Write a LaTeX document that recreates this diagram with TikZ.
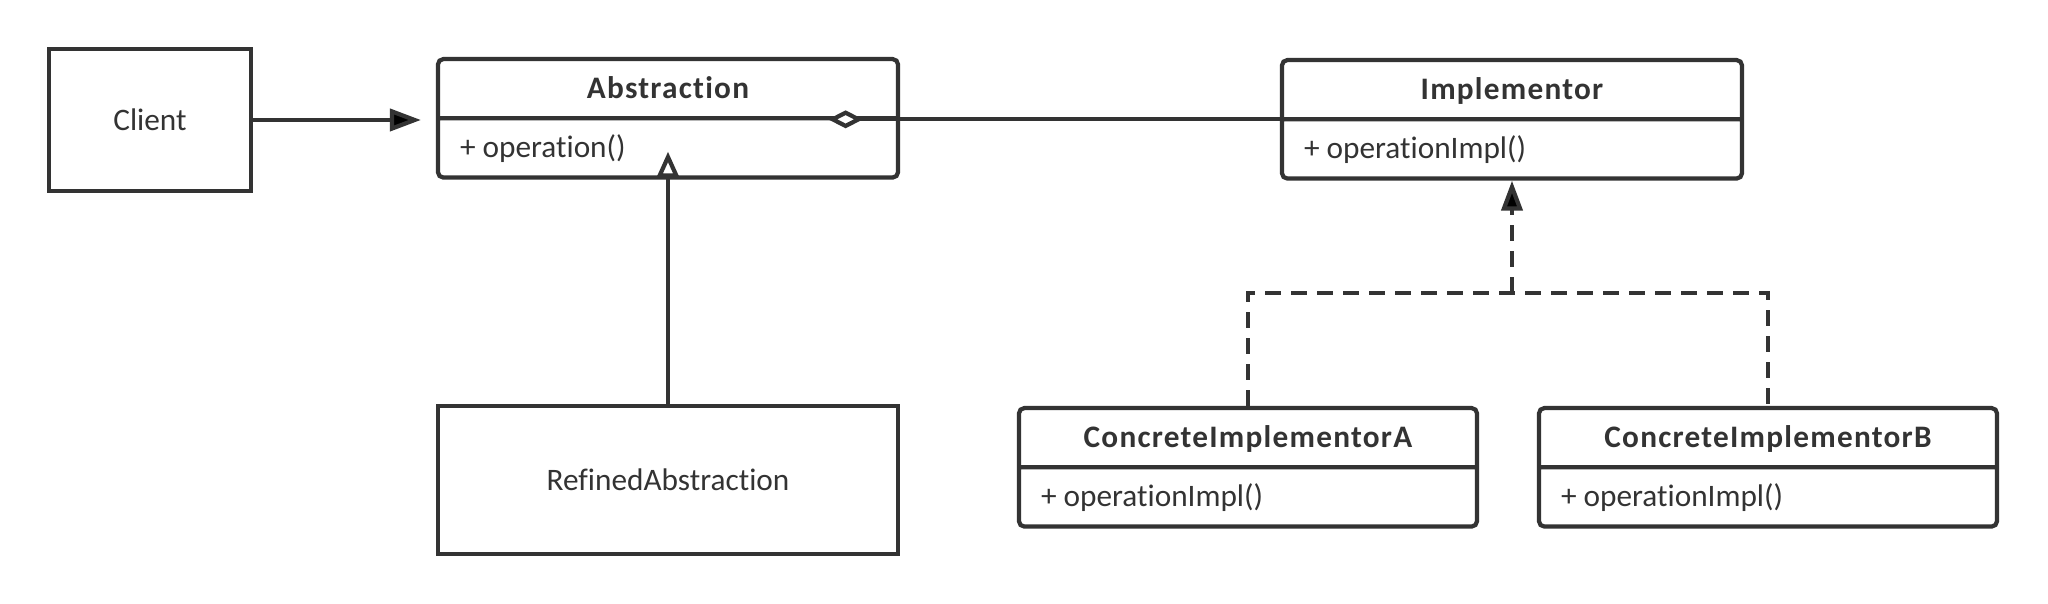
\documentclass[tikz,border=0pt]{standalone}
\usepackage{fontspec}
\setmainfont{Carlito}[Ligatures=NoCommon]
\newfontfamily\titlefont{Carlito}[LetterSpace=4, Ligatures=NoCommon]
\usetikzlibrary{arrows.meta,shapes.multipart}
\definecolor{linegray}{HTML}{333333}
\newcommand{\cstrut}{\rule[-0.18cm]{0pt}{0.55cm}}

\begin{document}
\begin{tikzpicture}[every node/.style={font=\fontsize{8.9}{10.7}\selectfont, text=linegray},
	umlclass/.style={rectangle split, rectangle split parts=2, draw=linegray, line width=1.2pt, rounded corners=1.5pt, inner xsep=0.22cm, inner ysep=0pt, anchor=north},
	plainbox/.style={rectangle, draw=linegray, line width=1.2pt, inner sep=0pt},
	link/.style={draw=linegray, line width=1.2pt},
	dashlink/.style={link, dash pattern=on 0.16cm off 0.10cm}]
			\path[use as bounding box] (0,0) rectangle (20.48,-6.04);
			
			\node[plainbox, minimum width=2.02cm, minimum height=1.42cm] (client) at (1.50,-1.20){Client};
			\node[umlclass] (abs) at (6.68,-0.57){\makebox[4.16cm]{\titlefont\bfseries Abstraction}\cstrut
				\nodepart{two}\makebox[4.16cm][l]{+ operation()}\cstrut};
			\node[umlclass] (impl) at (15.12,-0.58){\makebox[4.16cm]{\titlefont\bfseries Implementor}\cstrut
				\nodepart{two}\makebox[4.16cm][l]{+ operationImpl()}\cstrut};
			\node[plainbox, minimum width=4.60cm, minimum height=1.48cm] (refined) at (6.68,-4.80){RefinedAbstraction};
			\node[umlclass] (cia) at (12.48,-4.06){\makebox[4.14cm]{\titlefont\bfseries ConcreteImplementorA}\cstrut
				\nodepart{two}\makebox[4.14cm][l]{+ operationImpl()}\cstrut};
			\node[umlclass] (cib) at (17.68,-4.06){\makebox[4.14cm]{\titlefont\bfseries ConcreteImplementorB}\cstrut
				\nodepart{two}\makebox[4.14cm][l]{+ operationImpl()}\cstrut};
			
			\coordinate (join) at (15.12,-2.93);
			
			\draw[link, -{Triangle[length=0.31cm, width=0.22cm]}, shorten >=0.15cm] (client.east) -- (client.east -| abs.west);
			\draw[link, -{Diamond[length=0.35cm, width=0.18cm, fill=white]}] (impl.west) -- ([xshift=-0.72cm]abs.east |- impl.west);
			\draw[link, -{Triangle[length=0.26cm, width=0.22cm, fill=white]}] (refined.north) -- ([yshift=0.28cm]abs.south);
			\draw[dashlink] (cia.north) |- (join) -| (cib.north);
			\draw[dashlink, -{Triangle[length=0.30cm, width=0.21cm]}] (join) -- (impl.south);
			\end{tikzpicture}
\end{document}
